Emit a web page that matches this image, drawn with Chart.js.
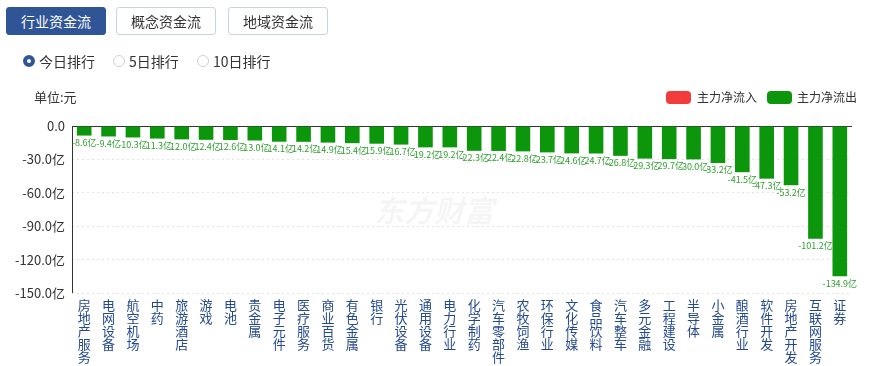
<!DOCTYPE html>
<html>
<head>
<meta charset="utf-8">
<script src="https://cdn.jsdelivr.net/npm/chart.js@4"></script>
<style>
  html, body { margin:0; padding:0; background:#fff; }
  body { width:871px; height:366px; position:relative; overflow:hidden; font-family:"Noto Sans CJK SC", sans-serif; color:#333; }
  #c { position:absolute; left:0; top:0; }
  .btn { position:absolute; top:7px; height:28px; width:100px; box-sizing:border-box; border:1px solid #c9d3e2; border-radius:3px; background:#fff; font-size:14px; line-height:26px; text-align:center; color:#333; }
  .btn.on { background:#2f5597; border-color:#2f5597; color:#fff; }
  .radio { position:absolute; top:53px; height:16px; font-size:14px; line-height:16px; color:#333; }
  .radio i { position:absolute; left:0; top:2px; width:12px; height:12px; box-sizing:border-box; border-radius:50%; border:1px solid #c9d0dc; background:#fff; }
  .radio.on i { border:4px solid #2f5597; }
  .radio span { position:absolute; left:16px; top:0; white-space:nowrap; }
  .unit { position:absolute; left:34px; top:89px; font-size:13px; line-height:16px; color:#333; }
  .lg { position:absolute; top:91px; width:25px; height:13px; border-radius:4px; }
  .lgt { position:absolute; top:89px; font-size:12px; line-height:16px; color:#333; white-space:nowrap; }
</style>
</head>
<body>
<canvas id="c" width="871" height="366"></canvas>
<div class="btn on" style="left:6px;">行业资金流</div>
<div class="btn" style="left:116px;">概念资金流</div>
<div class="btn" style="left:228px;">地域资金流</div>
<div class="radio on" style="left:23px;"><i></i><span>今日排行</span></div>
<div class="radio" style="left:113px;"><i></i><span>5日排行</span></div>
<div class="radio" style="left:197px;"><i></i><span>10日排行</span></div>
<div class="unit">单位:元</div>
<div class="lg" style="left:666px;background:#f23c3c;"></div>
<div class="lgt" style="left:697px;">主力净流入</div>
<div class="lg" style="left:767px;background:#0b960b;"></div>
<div class="lgt" style="left:797px;">主力净流出</div>
<script>
// ---- data ----
const categories = ["房地产服务","电网设备","航空机场","中药","旅游酒店","游戏","电池","贵金属","电子元件","医疗服务","商业百货","有色金属","银行","光伏设备","通用设备","电力行业","化学制药","汽车零部件","农牧饲渔","环保行业","文化传媒","食品饮料","汽车整车","多元金融","工程建设","半导体","小金属","酿酒行业","软件开发","房地产开发","互联网服务","证券"];
const netOutflow = [-8.6,-9.4,-10.3,-11.3,-12.0,-12.4,-12.6,-13.0,-14.1,-14.2,-14.9,-15.4,-15.9,-16.7,-19.2,-19.2,-22.3,-22.4,-22.8,-23.7,-24.6,-24.7,-26.8,-29.3,-29.7,-30.0,-33.2,-41.5,-47.3,-53.2,-101.2,-134.9];
const yTickValues = [0,-30,-60,-90,-120,-150];
const seriesNames = ["主力净流入","主力净流出"];

const FONT = '"Noto Sans CJK SC", sans-serif';
const GREEN = '#0b960b';

const decor = {
  id: 'decor',
  beforeDatasetsDraw(chart) {
    const {ctx, chartArea: a, scales: {y}} = chart;
    ctx.save();
    // watermark
    ctx.fillStyle = 'rgba(0,0,0,0.04)';
    ctx.font = 'italic bold 30px ' + FONT;
    ctx.textBaseline = 'middle';
    ctx.fillText('东方财富', 374, 211);
    // axis lines
    ctx.strokeStyle = '#333';
    ctx.lineWidth = 1;
    ctx.beginPath();
    const y0 = Math.round(y.getPixelForValue(0)) + 0.5;
    ctx.moveTo(a.left, y0); ctx.lineTo(a.right, y0);
    const xl = Math.round(a.left) + 0.5;
    ctx.moveTo(xl, a.top); ctx.lineTo(xl, a.bottom);
    ctx.stroke();
    ctx.restore();
  },
  afterDatasetsDraw(chart) {
    const {ctx} = chart;
    const meta = chart.getDatasetMeta(1);
    ctx.save();
    ctx.fillStyle = '#2f9f2f';
    ctx.font = '9px ' + FONT;
    ctx.textAlign = 'center';
    ctx.textBaseline = 'top';
    meta.data.forEach((bar, i) => {
      const v = netOutflow[i];
      ctx.fillText(v.toFixed(1) + '亿', bar.x, bar.y + 2.5);
    });
    ctx.restore();
  }
};

new Chart(document.getElementById('c'), {
  type: 'bar',
  data: {
    labels: categories.map(s => s.split('')),
    datasets: [
      { label: seriesNames[0], data: categories.map(() => null), backgroundColor: '#f23c3c' },
      { label: seriesNames[1], data: netOutflow, backgroundColor: GREEN }
    ]
  },
  options: {
    responsive: false,
    animation: false,
    layout: { padding: { left: 0, top: 126, right: 19, bottom: 0 } },
    plugins: { legend: { display: false }, tooltip: { enabled: false } },
    datasets: { bar: { grouped: false, categoryPercentage: 1, barPercentage: 0.6 } },
    scales: {
      x: {
        grid: { display: false, drawTicks: false },
        border: { display: false },
        ticks: {
          autoSkip: false, maxRotation: 0, minRotation: 0, padding: 6,
          color: '#24498f',
          font: { family: FONT, size: 13, lineHeight: 1.0 }
        },
        afterFit(s) { s.height = 73; }
      },
      y: {
        min: -150, max: 0,
        afterBuildTicks(s) { s.ticks = yTickValues.map(v => ({ value: v })); },
        grid: { color: '#e4e4e4', drawTicks: false },
        border: { display: false, dash: [2, 3] },
        ticks: {
          padding: 7, color: '#333',
          font: { family: FONT, size: 13 },
          callback: v => v === 0 ? '0.0' : v.toFixed(1) + '亿'
        },
        afterFit(s) { s.width = 72; }
      }
    }
  },
  plugins: [decor]
});
</script>
</body>
</html>
